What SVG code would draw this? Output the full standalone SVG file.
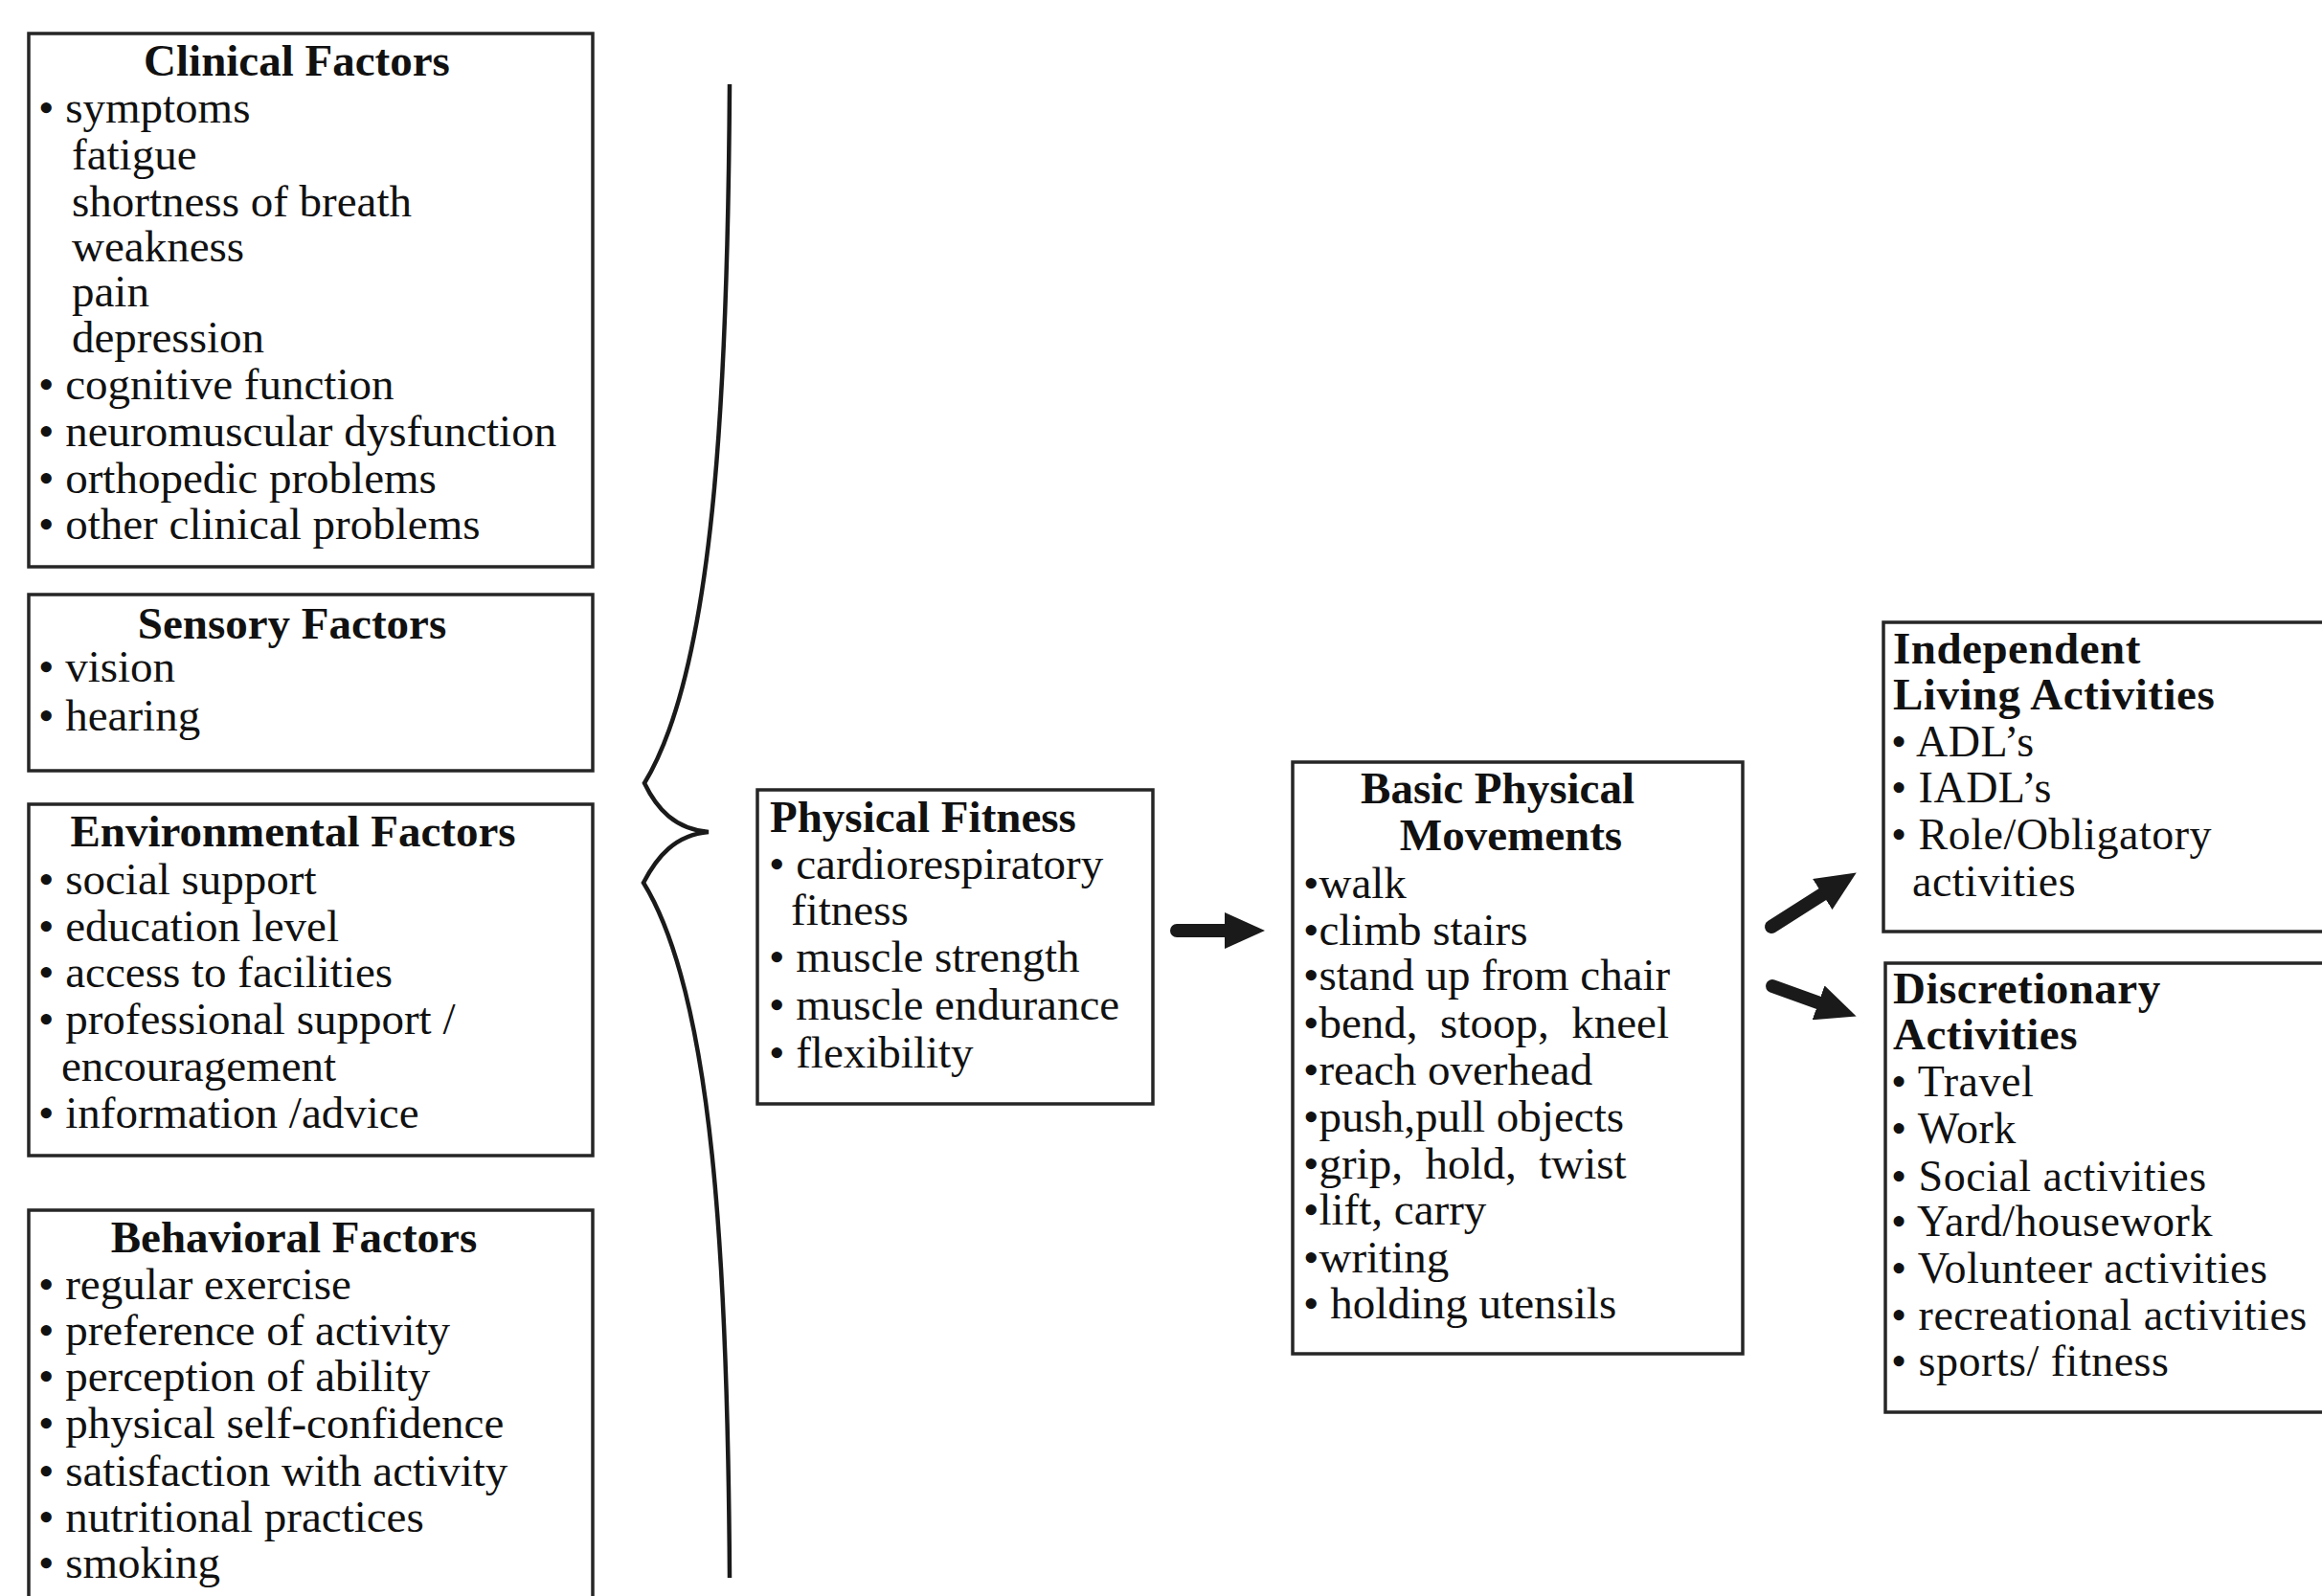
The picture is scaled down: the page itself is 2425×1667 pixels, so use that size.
<svg xmlns="http://www.w3.org/2000/svg" width="2425" height="1667" viewBox="0 0 2425 1667">
<style>
.box{fill:#fff;stroke:#262626;stroke-width:3.5}
.t{font-family:"Liberation Serif","Times New Roman",serif;font-size:47px;fill:#111}
.b{font-family:"Liberation Serif","Times New Roman",serif;font-size:47px;font-weight:bold;fill:#111}
.r{font-family:"Liberation Serif","Times New Roman",serif;font-size:46px;fill:#111;letter-spacing:0.5px}
.rb{font-family:"Liberation Serif","Times New Roman",serif;font-size:47px;font-weight:bold;fill:#111;letter-spacing:0.5px}
.arrow{fill:none;stroke:#1a1a1a;stroke-width:14;stroke-linecap:round}
.brace{fill:none;stroke:#1a1a1a;stroke-width:4.5}
</style>
<defs>
<marker id="head" viewBox="0 0 42 38" markerWidth="42" markerHeight="38" refX="2" refY="19" orient="auto" markerUnits="userSpaceOnUse">
<path d="M0,0 L42,19 L0,38 z" fill="#1a1a1a"/>
</marker>
</defs>
<rect width="2425" height="1667" fill="#fff"/>

<g id="clinical-factors">
<rect class="box" x="30" y="35" width="589" height="557"/>
<text class="b" x="310" y="79" text-anchor="middle">Clinical Factors</text>
<text class="t" x="40" y="128">• symptoms</text>
<text class="t" x="75" y="177">fatigue</text>
<text class="t" x="75" y="226">shortness of breath</text>
<text class="t" x="75" y="273">weakness</text>
<text class="t" x="75" y="320">pain</text>
<text class="t" x="75" y="368">depression</text>
<text class="t" x="40" y="417">• cognitive function</text>
<text class="t" x="40" y="466">• neuromuscular dysfunction</text>
<text class="t" x="40" y="515">• orthopedic problems</text>
<text class="t" x="40" y="563">• other clinical problems</text>
</g>

<g id="sensory-factors">
<rect class="box" x="30" y="621" width="589" height="184"/>
<text class="b" x="305" y="667" text-anchor="middle">Sensory Factors</text>
<text class="t" x="40" y="712">• vision</text>
<text class="t" x="40" y="763">• hearing</text>
</g>

<g id="environmental-factors">
<rect class="box" x="30" y="840" width="589" height="367"/>
<text class="b" x="306" y="884" text-anchor="middle">Environmental Factors</text>
<text class="t" x="40" y="934">• social support</text>
<text class="t" x="40" y="983">• education level</text>
<text class="t" x="40" y="1031">• access to facilities</text>
<text class="t" x="40" y="1080">• professional support /</text>
<text class="t" x="64" y="1129">encouragement</text>
<text class="t" x="40" y="1178">• information /advice</text>
</g>

<g id="behavioral-factors">
<rect class="box" x="30" y="1264" width="589" height="430"/>
<text class="b" x="307" y="1308" text-anchor="middle">Behavioral Factors</text>
<text class="t" x="40" y="1357">• regular exercise</text>
<text class="t" x="40" y="1405">• preference of activity</text>
<text class="t" x="40" y="1453">• perception of ability</text>
<text class="t" x="40" y="1502">• physical self-confidence</text>
<text class="t" x="40" y="1552">• satisfaction with activity</text>
<text class="t" x="40" y="1600">• nutritional practices</text>
<text class="t" x="40" y="1648">• smoking</text>
</g>

<g id="physical-fitness">
<rect class="box" x="791" y="825" width="413" height="328"/>
<text class="b" x="804" y="869">Physical Fitness</text>
<text class="t" x="803" y="918">• cardiorespiratory</text>
<text class="t" x="826" y="966">fitness</text>
<text class="t" x="803" y="1015">• muscle strength</text>
<text class="t" x="803" y="1065">• muscle endurance</text>
<text class="t" x="803" y="1115">• flexibility</text>
</g>

<g id="basic-physical-movements">
<rect class="box" x="1350" y="796" width="470" height="618"/>
<text class="b" x="1564" y="839" text-anchor="middle">Basic Physical</text>
<text class="b" x="1578" y="888" text-anchor="middle">Movements</text>
<text class="t" x="1361" y="938">•walk</text>
<text class="t" x="1361" y="987">•climb stairs</text>
<text class="t" x="1361" y="1034">•stand up from chair</text>
<text class="t" x="1361" y="1084">•bend,&#160; stoop,&#160; kneel</text>
<text class="t" x="1361" y="1133">•reach overhead</text>
<text class="t" x="1361" y="1182">•push,pull objects</text>
<text class="t" x="1361" y="1231">•grip,&#160; hold,&#160; twist</text>
<text class="t" x="1361" y="1279">•lift, carry</text>
<text class="t" x="1361" y="1329">•writing</text>
<text class="t" x="1361" y="1377">• holding utensils</text>
</g>

<g id="independent-living-activities">
<rect class="box" x="1967" y="650" width="480" height="323"/>
<text class="rb" x="1977" y="693">Independent</text>
<text class="rb" x="1977" y="741">Living Activities</text>
<text class="r" x="1975" y="790">• ADL’s</text>
<text class="r" x="1975" y="838">• IADL’s</text>
<text class="r" x="1975" y="887">• Role/Obligatory</text>
<text class="r" x="1997" y="936">activities</text>
</g>

<g id="discretionary-activities">
<rect class="box" x="1969" y="1006" width="480" height="469"/>
<text class="rb" x="1977" y="1048">Discretionary</text>
<text class="rb" x="1977" y="1096">Activities</text>
<text class="r" x="1975" y="1145">• Travel</text>
<text class="r" x="1975" y="1194">• Work</text>
<text class="r" x="1975" y="1244">• Social activities</text>
<text class="r" x="1975" y="1291">• Yard/housework</text>
<text class="r" x="1975" y="1340">• Volunteer activities</text>
<text class="r" x="1975" y="1389">• recreational activities</text>
<text class="r" x="1975" y="1437">• sports/ fitness</text>
</g>

<g id="connectors">
<path class="brace" d="M762 88 C760 420 745 700 673 818 C686 845 705 866 740 869 C705 872 686 895 672 922 C745 1040 760 1320 762 1648"/>
<line class="arrow" x1="1229" y1="972" x2="1281" y2="972" marker-end="url(#head)"/>
<line class="arrow" x1="1850" y1="968" x2="1905" y2="933" marker-end="url(#head)"/>
<line class="arrow" x1="1851" y1="1030" x2="1901" y2="1048" marker-end="url(#head)"/>
</g>
</svg>
